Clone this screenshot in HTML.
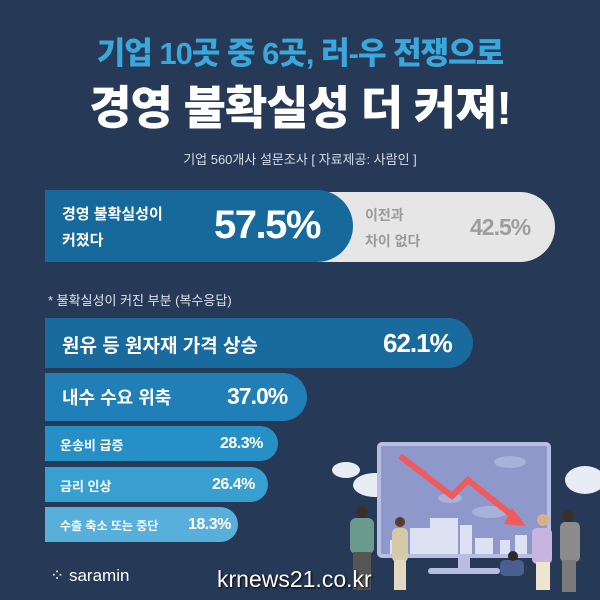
<!DOCTYPE html>
<html><head><meta charset="utf-8"><style>
*{margin:0;padding:0;box-sizing:border-box}
body{width:600px;height:600px;background:#263956;position:relative;overflow:hidden;font-family:"Liberation Sans","Noto Sans CJK KR",sans-serif;font-weight:bold;color:#fff}
.a{position:absolute;white-space:nowrap}
.bar{position:absolute;left:45px;border-radius:0 30px 30px 0}
</style></head><body>
<div class="a" style="left:0;width:600px;text-align:center;top:28px;font-size:31px;color:#3aa8dc;font-weight:900;letter-spacing:-1px">기업 10곳 중 6곳, 러-우 전쟁으로</div>
<div class="a" style="left:0;width:600px;text-align:center;top:72px;font-size:46px;font-weight:900;letter-spacing:-1px">경영 불확실성 더 커져!</div>
<div class="a" style="left:0;width:600px;text-align:center;top:149px;font-size:13px;font-weight:normal;color:#d8dde6">기업 560개사 설문조사 [ 자료제공: 사람인 ]</div>

<div class="a" style="left:300px;top:192px;width:255px;height:70px;background:#e6e6e6;border-radius:0 35px 35px 0"></div>
<div class="bar" style="top:190px;width:308px;height:72px;background:#17699c;border-radius:0 36px 36px 0"></div>
<div class="a" style="left:62px;top:202px;font-size:15px;line-height:26px">경영 불확실성이<br>커졌다</div>
<div class="a" style="left:214px;top:203px;font-size:40px;font-weight:900;letter-spacing:-1.5px">57.5%</div>
<div class="a" style="left:365px;top:202px;font-size:14px;line-height:26px;color:#9a9a9a">이전과<br>차이 없다</div>
<div class="a" style="left:470px;top:214px;font-size:23px;color:#9d9d9d;letter-spacing:-1px">42.5%</div>

<div class="a" style="left:48px;top:290px;font-size:13px;font-weight:normal;color:#dfe3ea">* 불확실성이 커진 부분 (복수응답)</div>

<div class="bar" style="top:318px;width:428px;height:50px;background:#196a9d;border-radius:0 25px 25px 0"></div>
<div class="a" style="left:62px;top:331px;font-size:19px">원유 등 원자재 가격 상승</div>
<div class="a" style="left:383px;top:328px;font-size:26px;letter-spacing:-1px">62.1%</div>

<div class="bar" style="top:373px;width:262px;height:48px;background:#1f7fb6;border-radius:0 24px 24px 0"></div>
<div class="a" style="left:62px;top:384px;font-size:18px">내수 수요 위축</div>
<div class="a" style="left:227px;top:383px;font-size:23px;letter-spacing:-1px">37.0%</div>

<div class="bar" style="top:426px;width:233px;height:35px;background:#2690c6;border-radius:0 18px 18px 0"></div>
<div class="a" style="left:60px;top:435px;font-size:13px">운송비 급증</div>
<div class="a" style="left:220px;top:435px;font-size:16px;letter-spacing:-.5px">28.3%</div>

<div class="bar" style="top:467px;width:223px;height:35px;background:#389fd0;border-radius:0 18px 18px 0"></div>
<div class="a" style="left:60px;top:476px;font-size:13px">금리 인상</div>
<div class="a" style="left:212px;top:476px;font-size:16px;letter-spacing:-.5px">26.4%</div>

<div class="bar" style="top:507px;width:193px;height:35px;background:#58afd9;border-radius:0 18px 18px 0"></div>
<div class="a" style="left:60px;top:517px;font-size:12px">수출 축소 또는 중단</div>
<div class="a" style="left:188px;top:516px;font-size:16px;letter-spacing:-.5px">18.3%</div>

<div class="a" style="left:50px;top:566px;font-size:17px;font-weight:normal">⁘ saramin</div>

<svg class="a" style="left:300px;top:400px" width="300" height="200" viewBox="0 0 300 200">
 <g fill="#e8ecf5">
  <ellipse cx="46" cy="70" rx="14" ry="8"/><ellipse cx="75" cy="85" rx="22" ry="12"/>
  <ellipse cx="285" cy="80" rx="20" ry="14"/>
 </g>
 <rect x="79" y="44" width="170" height="112" rx="3" fill="#8f98ca" stroke="#b7bee2" stroke-width="4"/>
 <g fill="#a9b0da"><ellipse cx="210" cy="62" rx="16" ry="6"/><ellipse cx="150" cy="98" rx="12" ry="5"/><ellipse cx="190" cy="112" rx="18" ry="6"/></g>
 <g fill="#dde2f3">
  <rect x="90" y="140" width="15" height="14"/><rect x="110" y="128" width="20" height="26"/><rect x="130" y="118" width="28" height="36"/><rect x="160" y="125" width="12" height="29"/><rect x="175" y="138" width="18" height="16"/><rect x="200" y="140" width="10" height="14"/><rect x="215" y="135" width="12" height="19"/>
 </g>
 <polyline points="100,56 152,96 168,80 218,120" fill="none" stroke="#f05a5a" stroke-width="6"/>
 <polygon points="212,108 226,126 204,124" fill="#f05a5a"/>
 <rect x="158" y="156" width="12" height="14" fill="#b7bee2"/>
 <rect x="128" y="168" width="72" height="6" rx="3" fill="#b7bee2"/>
 <g>
  <rect x="50" y="118" width="24" height="36" rx="6" fill="#6a9a8e"/><circle cx="62" cy="112" r="6" fill="#3a2e2a"/><rect x="53" y="152" width="18" height="38" fill="#555"/>
  <rect x="92" y="128" width="16" height="34" rx="5" fill="#d6c9a8"/><circle cx="100" cy="122" r="5" fill="#5a3a2a"/><rect x="94" y="160" width="12" height="30" fill="#e2d8c0"/>
  <rect x="200" y="160" width="24" height="16" rx="5" fill="#4a5e90"/><circle cx="213" cy="156" r="5" fill="#2a2a2a"/>
  <rect x="232" y="128" width="20" height="36" rx="5" fill="#c8b4e0"/><circle cx="243" cy="120" r="6" fill="#d6b08a"/><rect x="236" y="162" width="14" height="28" fill="#eee5cf"/>
  <rect x="260" y="122" width="20" height="40" rx="5" fill="#8c8c8c"/><circle cx="268" cy="116" r="6" fill="#3a2e2a"/><rect x="262" y="160" width="14" height="32" fill="#7a7a7a"/>
 </g>
</svg>
<div class="a" style="left:217px;top:566px;font-size:23px;font-weight:normal;text-shadow:1px 1px 2px #000;z-index:2">krnews21.co.kr</div>
</body></html>
